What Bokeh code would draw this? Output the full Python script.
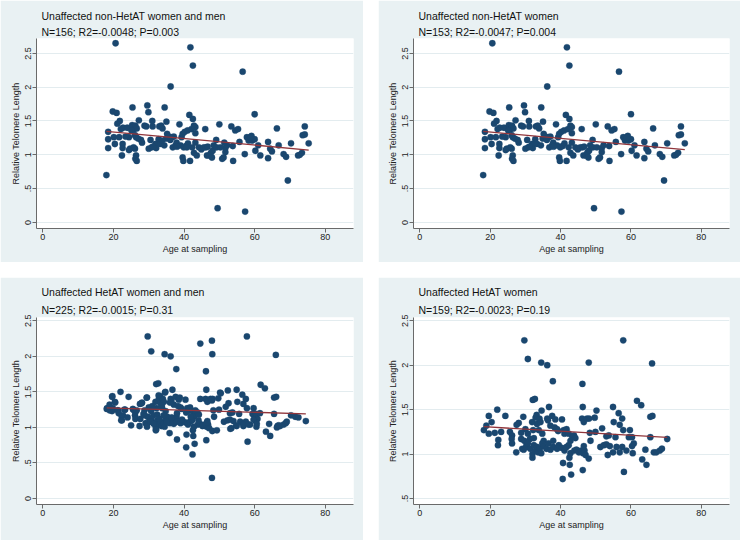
from bokeh.plotting import figure
from bokeh.layouts import gridplot
from bokeh.models import FixedTicker, CustomJSTickFormatter, Title, Range1d
from bokeh.embed import file_html
from bokeh.resources import INLINE

# ---------------- data ----------------
# Unaffected non-HetAT women
nonhet_women_age = [
    36.2, 18.0, 69.4, 19.8, 20.9, 25.4, 29.6, 29.9, 34.5, 60.0,
    18.5, 18.5, 18.5, 20.1, 20.4, 21.8, 21.1, 22.1, 22.7, 22.6,
    22.6, 22.4, 21.6, 23.9, 24.7, 24.4, 25.3, 25.6, 25.9, 26.2,
    26.6, 25.1, 26.1, 26.4, 27.0, 26.1, 26.4, 26.2, 26.6, 25.7,
    27.2, 28.1, 28.8, 27.8, 31.0, 31.1, 30.5, 30.8, 30.0, 31.9,
    32.1, 33.0, 33.5, 33.9, 32.8, 33.3, 34.4, 35.0, 35.2, 34.9,
    35.7, 36.1, 36.6, 36.8, 37.6, 37.9, 38.7, 39.0, 39.3, 39.6,
    40.2, 41.0, 41.5, 42.5, 42.8, 43.2, 43.2, 42.1, 39.9, 39.6,
    39.8, 41.7, 40.6, 41.1, 42.3, 43.2, 42.8, 43.6, 44.2, 44.9,
    45.6, 46.0, 46.2, 46.5, 47.2, 47.6, 47.9, 48.1, 48.4, 49.1,
    49.2, 50.0, 50.8, 51.2, 51.7, 51.7, 52.2, 53.4, 53.8, 53.9,
    54.5, 55.3, 55.7, 57.2, 57.8, 58.3, 59.1, 59.3, 60.0, 60.2,
    61.0, 61.6, 63.8, 63.8, 64.4, 64.9, 66.3, 66.8, 68.2, 68.9,
    70.3, 72.3, 72.8, 73.4, 73.6, 74.2, 74.2, 75.3, 20.6, 41.8,
    42.5, 56.6, 49.5, 57.3, 23.4, 24.4, 29.3, 31.2, 37.1, 38.0,
    46.7, 50.3, 58.8,
]
nonhet_women_rtl = [
    2.01, 0.70, 0.62, 1.64, 1.62, 1.70, 1.73, 1.63, 1.70, 1.60,
    1.34, 1.23, 1.10, 1.26, 1.16, 1.50, 1.46, 1.38, 1.40, 1.16,
    1.10, 0.99, 1.26, 1.40, 1.09, 1.26, 1.44, 1.41, 1.38, 1.43,
    1.39, 1.36, 1.29, 1.26, 1.24, 1.09, 0.99, 0.94, 0.91, 1.11,
    1.51, 1.18, 1.43, 1.22, 1.50, 1.42, 1.22, 1.11, 1.09, 1.16,
    1.10, 1.42, 1.43, 1.39, 1.23, 1.16, 1.14, 1.49, 1.31, 1.24,
    1.27, 1.22, 1.26, 1.11, 1.14, 1.18, 1.45, 1.14, 1.26, 1.31,
    1.34, 1.36, 1.59, 1.53, 1.43, 1.41, 1.32, 1.38, 1.11, 0.96,
    0.91, 0.91, 1.13, 1.17, 1.11, 1.18, 1.03, 0.99, 1.11, 1.08,
    1.11, 1.38, 1.11, 0.99, 0.99, 1.03, 0.96, 1.06, 1.14, 1.22,
    1.11, 1.45, 0.94, 0.96, 1.04, 1.10, 1.14, 1.42, 1.13, 0.91,
    1.36, 1.38, 1.19, 1.01, 1.26, 1.21, 1.28, 1.21, 1.23, 1.06,
    1.14, 0.99, 1.19, 0.95, 1.09, 1.05, 1.39, 1.14, 1.01, 0.97,
    1.17, 0.99, 1.00, 1.03, 1.29, 1.30, 1.42, 1.17, 2.65, 2.59,
    2.32, 2.23, 0.21, 0.16, 1.27, 1.07, 1.42, 1.12, 1.27, 1.12,
    1.12, 1.11, 1.26,
]
# Unaffected non-HetAT men
nonhet_men_age = [33.8, 40.8, 51.4]
nonhet_men_rtl = [1.21, 1.11, 1.18]

# Unaffected HetAT women
het_women_age = [
    29.7, 57.8, 30.7, 34.5, 36.2, 48.0, 66.0, 37.8, 46.2, 32.1,
    32.7, 61.7, 62.9, 40.6, 43.0, 58.0, 46.3, 40.7, 42.6, 64.4,
    63.2, 48.0, 32.0, 42.5, 18.2, 18.9, 19.6, 19.6, 20.4, 21.3,
    22.0, 22.3, 22.2, 23.1, 24.3, 25.6, 26.2, 26.1, 27.5, 28.1,
    28.8, 28.8, 29.4, 30.0, 29.7, 30.3, 30.7, 31.3, 31.9, 32.2,
    32.4, 32.9, 33.2, 33.3, 33.8, 34.0, 34.3, 34.6, 34.8, 35.2,
    36.2, 36.4, 36.7, 37.1, 37.6, 37.9, 38.3, 38.5, 39.0, 39.3,
    40.4, 40.9, 41.1, 41.7, 42.3, 42.8, 43.3, 43.8, 44.2, 46.3,
    46.1, 46.6, 47.5, 48.1, 48.3, 48.5, 49.7, 50.2, 49.9, 51.8,
    53.0, 53.7, 54.9, 55.1, 55.6, 56.5, 56.8, 57.5, 57.8, 59.4,
    59.7, 60.3, 65.5, 66.1, 65.5, 70.3, 26.2, 27.4, 29.1, 29.5,
    30.3, 30.7, 31.4, 32.0, 32.4, 32.9, 33.3, 33.6, 34.1, 34.5,
    34.8, 35.2, 36.0, 36.6, 37.1, 37.9, 39.0, 39.5, 40.4, 41.1,
    41.7, 42.3, 42.8, 43.9, 44.5, 45.2, 45.8, 46.4, 46.8, 47.1,
    46.6, 51.3, 52.3, 53.0, 53.4, 54.0, 54.9, 55.9, 56.8, 57.5,
    58.7, 60.3, 60.5, 60.8, 64.1, 66.5, 67.2, 68.2, 68.8,
]
het_women_rtl = [
    2.28, 2.28, 2.07, 2.03, 2.00, 2.03, 2.02, 1.82, 1.79, 1.61,
    1.62, 1.60, 1.55, 0.72, 0.77, 0.80, 0.82, 0.90, 0.88, 0.88,
    0.94, 0.95, 0.96, 0.96, 1.27, 1.32, 1.43, 1.23, 1.36, 1.24,
    1.50, 1.16, 1.10, 1.25, 1.43, 1.25, 1.21, 1.17, 1.33, 1.35,
    1.24, 1.17, 1.42, 1.28, 1.15, 1.10, 1.23, 1.17, 1.36, 1.27,
    1.18, 1.41, 1.44, 1.34, 1.27, 1.40, 1.36, 1.49, 1.23, 1.15,
    1.40, 1.38, 1.53, 1.32, 1.43, 1.15, 1.30, 1.39, 1.28, 1.26,
    1.39, 1.27, 1.23, 1.28, 1.23, 1.15, 1.20, 1.21, 1.18, 1.53,
    1.40, 1.36, 1.40, 1.40, 1.24, 1.15, 1.41, 1.49, 1.25, 1.29,
    1.20, 1.21, 1.53, 1.36, 1.19, 1.46, 1.33, 1.40, 1.27, 1.19,
    1.27, 1.19, 1.42, 1.43, 1.19, 1.17, 1.12, 1.02, 1.06, 1.05,
    1.08, 1.12, 1.06, 1.00, 1.10, 1.04, 1.08, 1.02, 1.06, 1.01,
    1.12, 1.09, 1.06, 1.12, 1.05, 1.08, 1.06, 1.10, 1.07, 1.04,
    1.08, 1.10, 1.01, 1.04, 1.05, 1.02, 1.04, 1.01, 1.04, 0.99,
    1.09, 1.08, 1.10, 1.11, 0.99, 1.09, 1.02, 1.08, 1.02, 1.08,
    1.04, 1.09, 1.01, 1.12, 1.05, 1.02, 1.02, 1.04, 1.06,
]
# Unaffected HetAT men
het_men_age = [
    47.9, 42.4, 44.6, 47.9, 71.5, 72.4, 74.5, 38.0, 18.1, 18.9,
    19.8, 19.7, 20.5, 21.2, 21.5, 22.7, 22.4, 23.3, 24.0, 25.0,
    25.5, 26.6, 27.6, 28.0, 28.5, 29.5, 29.5, 30.4, 30.6, 31.4,
    32.1, 32.8, 33.7, 34.2, 34.7, 35.1, 35.9, 36.5, 38.0, 39.4,
    40.6, 41.9, 43.2, 44.1, 44.6, 45.3, 46.5, 47.9, 49.3, 50.4,
    52.4, 52.6, 53.1, 54.8, 56.8, 58.3, 59.7, 60.6, 66.3, 66.8,
    69.1, 61.5, 33.0, 36.0, 38.8, 31.0,
]
het_men_rtl = [
    0.29, 0.62, 2.18, 2.22, 1.15, 1.14, 1.09, 0.83, 1.26, 1.24,
    1.27, 1.44, 1.35, 1.24, 1.20, 1.17, 1.10, 1.25, 1.14, 1.03,
    1.26, 1.24, 1.12, 1.34, 1.19, 1.42, 1.01, 1.09, 1.25, 1.05,
    0.97, 1.45, 1.31, 1.17, 1.50, 1.07, 0.92, 1.14, 1.20, 1.11,
    1.21, 1.15, 1.24, 1.10, 1.40, 1.03, 1.07, 1.38, 0.96, 1.48,
    1.52, 1.34, 0.98, 1.03, 1.04, 1.04, 1.11, 1.05, 1.00, 1.03,
    1.08, 1.20, 1.12, 1.35, 1.42, 1.30,
]

panel_titles = [
    "Unaffected non-HetAT women and men",
    "Unaffected non-HetAT women",
    "Unaffected HetAT women and men",
    "Unaffected HetAT women",
]
panel_subtitles = [
    "N=156; R2=-0.0048; P=0.003",
    "N=153; R2=-0.0047; P=0.004",
    "N=225; R2=-0.0015; P=0.31",
    "N=159; R2=-0.0023; P=0.19",
]
fit_intercepts = [1.432, 1.431, 1.303, 1.350]
fit_slopes = [-0.0048, -0.0047, -0.0015, -0.0023]

x_ticks = [0, 20, 40, 60, 80]
y_ticks_full = [0, 0.5, 1, 1.5, 2, 2.5]
y_ticks_het_women = [0.5, 1, 1.5, 2, 2.5]

# ---------------- styling ----------------
BG = "#e9f1f3"
GRID = "#e3ecef"
DOT = "#1a476f"
LINE = "#90353b"
AX = "#6a6a6a"
FONT = "Liberation Sans"

fmt = CustomJSTickFormatter(code="""
var s = tick.toFixed(1).replace(/\\.0$/, '');
if (s.indexOf('0.') === 0) { s = s.substring(1); }
return s;
""")


def panel(i, ages, vals, yticks, yrange, width, height, borders, standoffs):
    left, right, top, bottom = borders
    p = figure(width=width, height=height,
               x_range=Range1d(-1.8, 88.0), y_range=Range1d(*yrange),
               output_backend="svg", toolbar_location=None,
               min_border_left=left, min_border_right=right,
               min_border_top=top, min_border_bottom=bottom)
    p.border_fill_color = BG
    p.background_fill_color = "white"
    p.outline_line_color = None

    # titles (first added sits closest to the plot)
    p.add_layout(Title(text=panel_subtitles[i], align="left", offset=5,
                       text_font=FONT, text_font_size="10.5px",
                       text_font_style="normal", text_color="#111111",
                       standoff=standoffs[1]), "above")
    p.add_layout(Title(text=panel_titles[i], align="left", offset=5,
                       text_font=FONT, text_font_size="10.5px",
                       text_font_style="normal", text_color="#111111",
                       standoff=standoffs[0]), "above")

    p.xaxis.ticker = FixedTicker(ticks=x_ticks)
    p.yaxis.ticker = FixedTicker(ticks=yticks)
    p.yaxis.formatter = fmt
    p.yaxis.major_label_orientation = "vertical"
    p.xaxis.axis_label = "Age at sampling"
    p.yaxis.axis_label = "Relative Telomere Length"
    for ax in (p.xaxis[0], p.yaxis[0]):
        ax.axis_line_color = AX
        ax.axis_line_width = 1
        ax.major_tick_line_color = AX
        ax.major_tick_out = 4
        ax.major_tick_in = 0
        ax.minor_tick_line_color = None
        ax.major_label_text_font = FONT
        ax.major_label_text_font_size = "9px"
        ax.major_label_text_color = "#222222"
        ax.major_label_standoff = 1
        ax.axis_label_text_font = FONT
        ax.axis_label_text_font_size = "9px"
        ax.axis_label_text_font_style = "normal"
        ax.axis_label_text_color = "#222222"
    p.xaxis.axis_label_standoff = 1
    p.yaxis.axis_label_standoff = 2

    p.xgrid.visible = False
    p.ygrid.grid_line_color = GRID
    p.ygrid.grid_line_width = 1.2

    p.scatter(ages, vals, size=6.3, marker="circle",
              fill_color=DOT, line_color=DOT, line_width=0.3)

    a0, a1 = min(ages), max(ages)
    b0 = fit_intercepts[i]
    b1 = fit_slopes[i]
    p.line([a0, a1], [b0 + b1 * a0, b0 + b1 * a1], line_color=LINE, line_width=1.3)
    return p


p1 = panel(0, nonhet_women_age + nonhet_men_age, nonhet_women_rtl + nonhet_men_rtl,
           y_ticks_full, (-0.09, 2.72), 363, 262, (36, 10, 38, 34), (2.5, 1))
p2 = panel(1, nonhet_women_age, nonhet_women_rtl,
           y_ticks_full, (-0.09, 2.72), 362, 262, (35, 11, 38, 34), (2.5, 1))
p3 = panel(2, het_women_age + het_men_age, het_women_rtl + het_men_rtl,
           y_ticks_full, (-0.084, 2.546), 363, 263, (36, 10, 40, 36), (2.5, 4))
p4 = panel(3, het_women_age, het_women_rtl,
           y_ticks_het_women, (0.433, 2.537), 362, 263, (35, 10, 40, 36), (2.5, 4))

g = gridplot([[p1, p2], [p3, p4]], toolbar_location=None)
g.spacing = 15

open("out.html", "w").write(file_html(g, INLINE))
